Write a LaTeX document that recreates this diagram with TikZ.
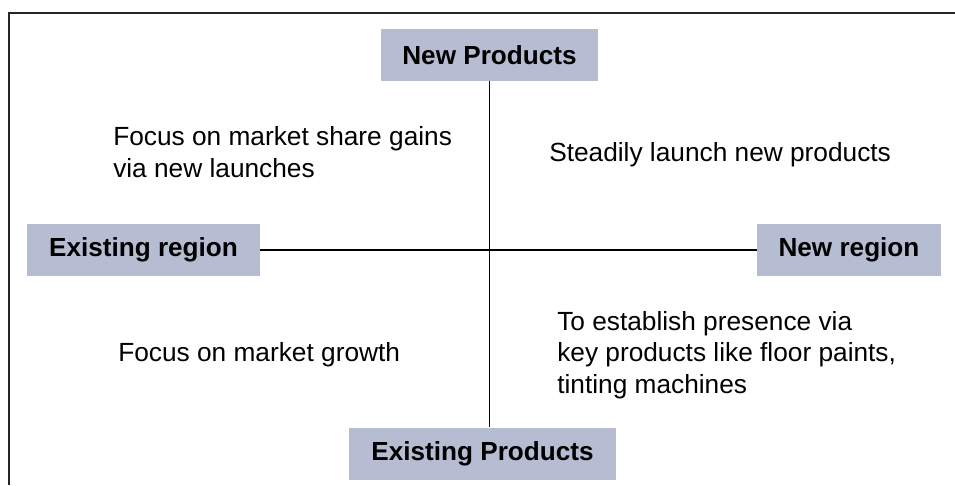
\documentclass[tikz,border=0pt]{standalone}
\usepackage{fontspec}
\setmainfont{Liberation Sans}
\definecolor{boxfill}{RGB}{182,188,209}
\begin{document}
\begin{tikzpicture}[x=0.75pt,y=-0.75pt,
  axisbox/.style={fill=boxfill, inner sep=0pt, anchor=center,
    minimum height=39pt, font=\bfseries\fontsize{19.6}{23.5}\selectfont},
  note/.style={inner sep=0pt, anchor=base west, align=left,
    font=\fontsize{19.7}{23.4}\selectfont},
  axis/.style={line width=1.1pt, black}]
\useasboundingbox (0,0) rectangle (955,485);
\fill[white] (0,0) rectangle (955,485);
% open frame: left and top edges only
\draw[line width=1.7pt, black!85] (9,485) |- (955,13);
% axis labels
\node[axisbox, minimum width=163pt] (np) at (489.5,55) {New Products};
\node[axisbox, minimum width=175pt] (er) at (143.5,250) {Existing region};
\node[axisbox, minimum width=138pt] (nr) at (849,250) {New region};
\node[axisbox, minimum width=200pt] (ep) at (482.5,453.5) {Existing Products};
% axes
\draw[axis] (np.south) -- (np.south |- ep.north);
\draw[axis] (er.east) -- (nr.west);
% quadrant notes (anchored at the baseline of the last line)
\node[note] (q1) at (113,177) {Focus on market share gains\\via new launches};
\node[note] (q2) at (549,161) {Steadily launch new products};
\node[note] (q3) at (118,361) {Focus on market growth};
\node[note] (q4) at (557,393) {To establish presence via\\key products like floor paints,\\tinting machines};
\end{tikzpicture}
\end{document}
